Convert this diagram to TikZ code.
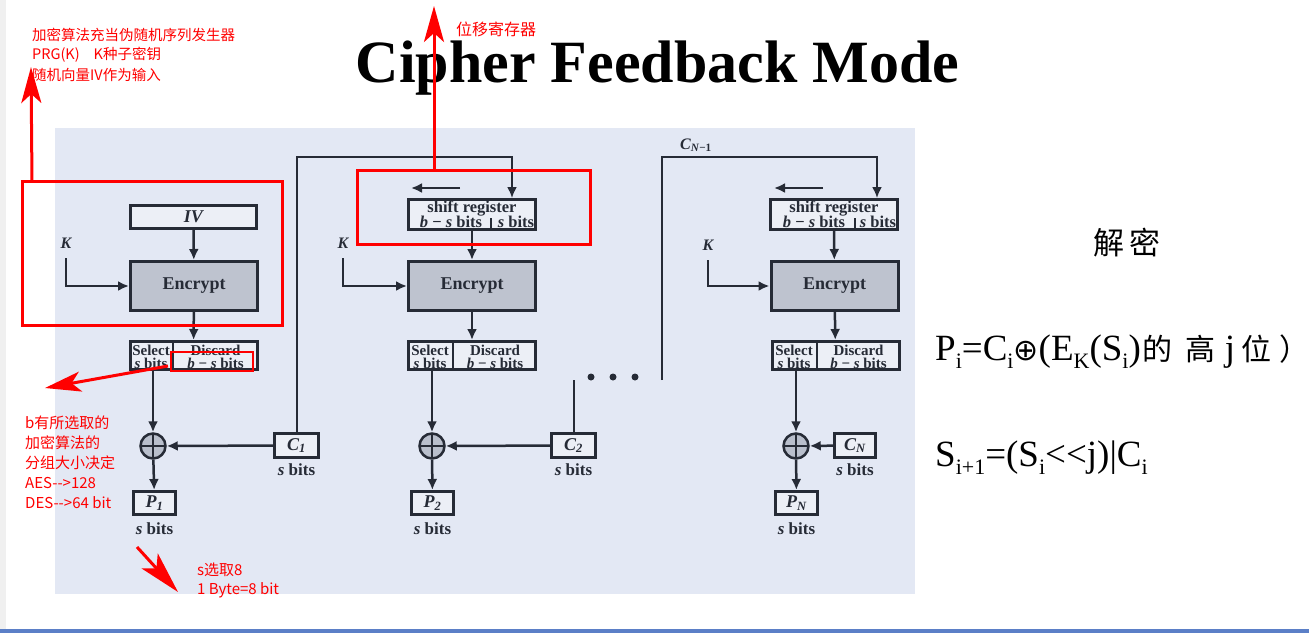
\documentclass[tikz,border=0pt]{standalone}
\usepackage{fontspec}
\setmainfont{Liberation Serif}
\newfontfamily\cjk{Noto Sans CJK SC}
\newfontfamily\djv{DejaVu Sans}
\usetikzlibrary{arrows.meta}
\definecolor{panel}{RGB}{227,232,244}
\definecolor{dk}{RGB}{38,43,54}
\definecolor{encf}{RGB}{190,195,207}
\definecolor{boxf}{RGB}{236,239,246}
\definecolor{xorf}{RGB}{185,191,204}
\definecolor{leftgray}{RGB}{240,240,240}
\definecolor{bluebar}{RGB}{91,127,199}
\definecolor{annot}{RGB}{255,0,0}
\newcommand\lowsub[1]{\raisebox{-0.22em}{\fontsize{22}{22}\selectfont #1}}
\newcommand\cjkbig[1]{{\cjk\fontsize{30}{30}\selectfont #1}}
\begin{document}
\begin{tikzpicture}[x=1pt,y=-1pt,
 box/.style={draw=dk,line width=3pt,fill=boxf,inner sep=0pt},
 encbox/.style={draw=dk,line width=3pt,fill=encf,inner sep=0pt,minimum width=127pt,minimum height=49pt,font=\bfseries\fontsize{18}{18}\selectfont,text=dk},
 selbox/.style={box,minimum width=127pt,minimum height=28pt},
 srbox/.style={box,minimum width=127pt,minimum height=30pt},
 smallbox/.style={box,minimum height=23pt,font=\bfseries\itshape\fontsize{18}{18}\selectfont,text=dk},
 seltxt/.style={inner sep=0pt,align=center,font=\bfseries\fontsize{15}{13}\selectfont,text=dk},
 srtxt/.style={inner sep=0pt,anchor=base,font=\bfseries\fontsize{16.5}{16.5}\selectfont,text=dk},
 sbits/.style={inner sep=0pt,font=\bfseries\fontsize{17}{17}\selectfont,text=dk},
 klab/.style={inner sep=0pt,font=\bfseries\itshape\fontsize{16}{16}\selectfont,text=dk},
 xor/.style={circle,draw=dk,line width=2.5pt,fill=xorf,minimum size=25pt,inner sep=0pt,
   path picture={\draw[dk,line width=2pt] (path picture bounding box.north) -- (path picture bounding box.south) (path picture bounding box.west) -- (path picture bounding box.east);}},
 conn/.style={draw=dk,line width=2.5pt,-{Latex[length=11pt,width=10pt]}},
 plain/.style={draw=dk,line width=2pt},
 divider/.style={draw=dk,line width=2.5pt},
 dotc/.style={circle,fill=dk,inner sep=0pt,minimum size=7pt},
 redbox/.style={draw=annot,line width=3pt},
 redarrow/.style={draw=annot,line width=3pt,-{Stealth[length=36pt,width=20pt,inset=9pt]}},
 redtxt/.style={inner sep=0pt,anchor=west,text=annot,font=\cjk\fontsize{14.5}{14.5}\selectfont},
 redtxtb/.style={inner sep=0pt,anchor=west,text=annot,font=\cjk\fontsize{15}{15}\selectfont},
 rhs/.style={anchor=base west,inner sep=0pt,font=\fontsize{37}{37}\selectfont},
]
\useasboundingbox (0,0) rectangle (1309,633);
% background
\fill[white] (0,0) rectangle (1309,633);
\fill[leftgray] (0,0) rectangle (6,633);
\fill[bluebar] (0,629) rectangle (1309,633);
\fill[panel] (55,128) rectangle (915,594);

% title
\node[anchor=base,inner sep=0pt,font=\bfseries\fontsize{60}{60}\selectfont] (title) at (657.5,82) {Cipher Feedback Mode};

% ---------- column 1 ----------
\node[box,minimum width=126pt,minimum height=23pt,font=\bfseries\itshape\fontsize{18}{18}\selectfont,text=dk] (iv) at (193.5,217) {IV};
\node[encbox] (enc1) at (194,286) {Encrypt};
\node[selbox] (sel1) at (193.5,355.5) {};
\draw[divider] (173,342) -- (173,369);
\node[seltxt] (sel1a) at (151,356.5) {Select\\\textit{s} bits};
\node[seltxt] (sel1b) at (215.5,356.5) {Discard\\\textit{b} − \textit{s} bits};
\node[klab] (k1) at (66,243) {K};
\node[xor] (x1) at (153,446) {};
\node[smallbox,minimum width=42pt] (p1) at (154.5,503) {P\textsubscript{1}};
\node[sbits] (p1s) at (154.5,529) {\textit{s} bits};
\node[smallbox,minimum width=44pt,minimum height=24pt] (c1) at (296.5,445.5) {C\textsubscript{1}};
\node[sbits] (c1s) at (296.5,470) {\textit{s} bits};

% ---------- column 2 ----------
\node[srbox] (sr2) at (472,214.5) {};
\node[srtxt] (sr2a) at (472,212.5) {shift register};
\node[srtxt] (sr2b) at (451,227.5) {\textit{b} − \textit{s} bits};
\node[srtxt] (sr2c) at (516,227.5) {\textit{s} bits};
\draw[plain,line width=1.5pt] (491,218) -- (491,230);
\node[encbox] (enc2) at (472,286) {Encrypt};
\node[selbox] (sel2) at (472,355.5) {};
\draw[divider] (453,342) -- (453,369);
\node[seltxt] (sel2a) at (430,356.5) {Select\\\textit{s} bits};
\node[seltxt] (sel2b) at (495,356.5) {Discard\\\textit{b} − \textit{s} bits};
\node[klab] (k2) at (343,243) {K};
\node[xor] (x2) at (432,446) {};
\node[smallbox,minimum width=42pt] (p2) at (432.5,503) {P\textsubscript{2}};
\node[sbits] (p2s) at (432.5,529) {\textit{s} bits};
\node[smallbox,minimum width=44pt,minimum height=24pt] (c2) at (573.5,445.5) {C\textsubscript{2}};
\node[sbits] (c2s) at (573.5,470) {\textit{s} bits};

% ---------- column 3 ----------
\node[srbox] (sr3) at (834,214.5) {};
\node[srtxt] (sr3a) at (834,212.5) {shift register};
\node[srtxt] (sr3b) at (814,227.5) {\textit{b} − \textit{s} bits};
\node[srtxt] (sr3c) at (878,227.5) {\textit{s} bits};
\draw[plain,line width=1.5pt] (855,218) -- (855,230);
\node[encbox] (enc3) at (834.5,286) {Encrypt};
\node[selbox] (sel3) at (835.5,355.5) {};
\draw[divider] (817,342) -- (817,369);
\node[seltxt] (sel3a) at (794,356.5) {Select\\\textit{s} bits};
\node[seltxt] (sel3b) at (858.5,356.5) {Discard\\\textit{b} − \textit{s} bits};
\node[klab] (k3) at (708,245) {K};
\node[xor] (x3) at (796,446) {};
\node[smallbox,minimum width=42pt] (p3) at (796.5,503) {P\textsubscript{\textit{N}}};
\node[sbits] (p3s) at (796.5,529) {\textit{s} bits};
\node[smallbox,minimum width=41pt,minimum height=24pt] (c3) at (855,445.5) {C\textsubscript{\textit{N}}};
\node[sbits] (c3s) at (855,470) {\textit{s} bits};
\node[klab] (cn1) at (696,145) {C\textsubscript{\textit{N}\textup{−1}}};

% dots
\node[dotc] (d1) at (591,377) {};
\node[dotc] (d2) at (613,377) {};
\node[dotc] (d3) at (635,377) {};

% coordinates for free ends
\coordinate (fb2) at (512,157);
\coordinate (fb3) at (877,157);
\coordinate (cnb) at (662,380);
\coordinate (c2top) at (573.5,380);
\coordinate (sl2a) at (460,188);
\coordinate (sl2b) at (411,188);
\coordinate (sl3a) at (823,188);
\coordinate (sl3b) at (774,188);

% connectors column 1
\draw[conn] (iv) -- (enc1);
\draw[conn] (enc1) -- (sel1);
\draw[conn] ([yshift=-10pt]k1.south) |- (enc1.west);
\draw[conn] (sel1.south -| x1) -- (x1);
\draw[conn] (x1) -- (p1);
\draw[conn] (c1) -- (x1);
\draw[conn,line width=2pt] (c1.north) |- (fb2) -- (fb2 |- sr2.north);

% connectors column 2
\draw[conn] (sl2a) -- (sl2b);
\draw[conn] (sr2) -- (enc2);
\draw[conn] (enc2) -- (sel2);
\draw[conn] ([yshift=-10pt]k2.south) |- (enc2.west);
\draw[conn] (sel2.south -| x2) -- (x2);
\draw[conn] (x2) -- (p2);
\draw[conn] (c2) -- (x2);
\draw[plain] (c2.north) -- (c2top);

% connectors column 3
\draw[conn,line width=2pt] (cnb) |- (fb3) -- (fb3 |- sr3.north);
\draw[conn] (sl3a) -- (sl3b);
\draw[conn] (sr3) -- (enc3);
\draw[conn] (enc3) -- (sel3);
\draw[conn] ([yshift=-10pt]k3.south) |- (enc3.west);
\draw[conn] (sel3.south -| x3) -- (x3);
\draw[conn] (x3) -- (p3);
\draw[conn] (c3) -- (x3);

% right-hand formulas
\node[inner sep=0pt,font=\cjk\fontsize{31}{31}\selectfont] (jiemi) at (1127,243) {解\hspace{6pt}密};
\node[rhs] (f1) at (935,360)
  {P\lowsub{i}=C\lowsub{i}{\djv\fontsize{30}{30}\selectfont ⊕}(E\lowsub{K}(S\lowsub{i})\hspace{2pt}\cjkbig{的}\hspace{13pt}\cjkbig{高}\hspace{9pt}j\hspace{6pt}\cjkbig{位}\hspace{8pt}\cjkbig{）}};
\node[rhs] (f2) at (935,466)
  {S\lowsub{i+1}=(S\lowsub{i}<{}<j)|C\lowsub{i}};

% red annotations
\draw[redbox] (22,181) rectangle (282,325);
\draw[redbox] (357,170) rectangle (590,244);
\draw[redbox,line width=2pt] (171,352) rectangle (253,371);
\coordinate (ra1s) at (32,181);
\coordinate (ra1t) at (31,67);
\coordinate (ra2s) at (434,170);
\coordinate (ra2t) at (434,6);
\coordinate (ra3s) at (168,366);
\coordinate (ra3t) at (45,388);
\coordinate (ra4s) at (137,547);
\coordinate (ra4t) at (178,592);
\draw[redarrow] (ra1s) -- (ra1t);
\draw[redarrow] (ra2s) -- (ra2t);
\draw[redarrow] (ra3s) -- (ra3t);
\draw[redarrow,-{Stealth[length=42pt,width=22pt,inset=10pt]}] (ra4s) -- (ra4t);

\node[redtxt] (n1) at (32,35) {加密算法充当伪随机序列发生器};
\node[redtxt] (n2) at (32,55) {PRG(K)\hspace{14pt}K种子密钥};
\node[redtxt] (n3) at (32,75) {随机向量IV作为输入};
\node[redtxt,font=\cjk\fontsize{16}{16}\selectfont] (n4) at (456,29) {位移寄存器};
\node[redtxtb] (n5) at (25,423) {b有所选取的};
\node[redtxtb] (n6) at (25,443) {加密算法的};
\node[redtxtb] (n7) at (25,463) {分组大小决定};
\node[redtxtb] (n8) at (25,483) {AES-->128};
\node[redtxtb] (n9) at (25,503) {DES-->64 bit};
\node[redtxtb] (n10) at (197,570) {s选取8};
\node[redtxtb] (n11) at (197,590) {1 Byte=8 bit};
\end{tikzpicture}
\end{document}
